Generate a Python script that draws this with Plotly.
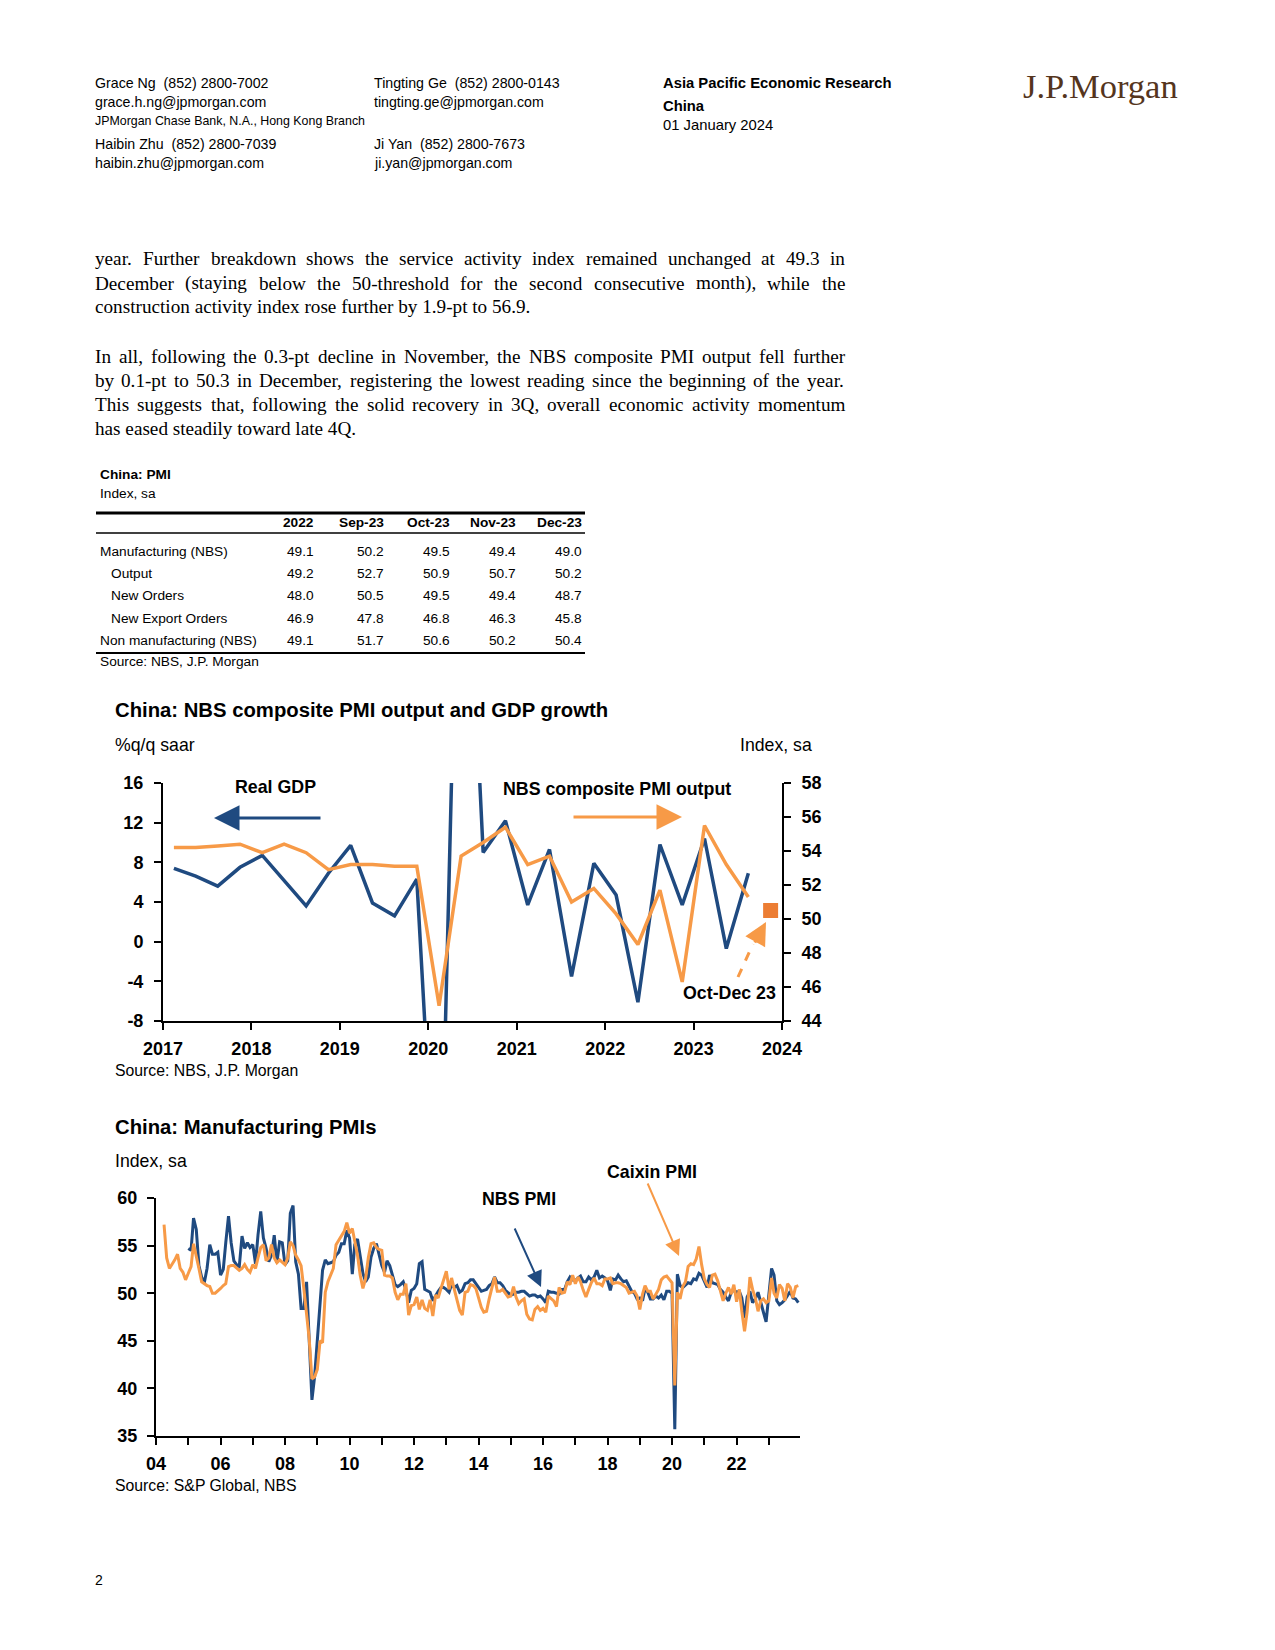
import plotly.graph_objects as go
import pandas as pd

W, H = 1275, 1650

# ---------------- DATA ----------------
# Chart 1: quarterly real GDP (%q/q saar) and NBS composite PMI output (quarterly avg)
gdp_quarters = ["2017Q1", "2017Q2", "2017Q3", "2017Q4",
                "2018Q1", "2018Q2", "2018Q3", "2018Q4",
                "2019Q1", "2019Q2", "2019Q3", "2019Q4",
                "2020Q1", "2020Q2", "2020Q3", "2020Q4",
                "2021Q1", "2021Q2", "2021Q3", "2021Q4",
                "2022Q1", "2022Q2", "2022Q3", "2022Q4",
                "2023Q1", "2023Q2", "2023Q3"]
real_gdp = [7.4, 6.6, 5.6, 7.5,
            8.7, 6.2, 3.6, 6.9,
            9.7, 3.9, 2.6, 6.3,
            -34.0, 55.0, 9.0, 12.2,
            3.7, 9.3, -3.5, 7.9,
            4.7, -6.1, 9.8, 3.7,
            10.4, -0.7, 6.9]
composite_pmi = [54.2, 54.2, 54.3, 54.4,
                 53.9, 54.4, 53.9, 52.9,
                 53.2, 53.2, 53.1, 53.1,
                 44.9, 53.7, 54.5, 55.4,
                 53.2, 53.7, 51.0, 51.8,
                 50.3, 48.5, 51.7, 46.3,
                 55.5, 53.2, 51.3]
latest_quarter = ["2023Q4"]
latest_composite = [50.5]
chart1_years = [2017, 2018, 2019, 2020, 2021, 2022, 2023, 2024]
gdp_ticks = [-8, -4, 0, 4, 8, 12, 16]

# Chart 2: monthly manufacturing PMIs
nbs_start = "2005-01-01"
nbs_pmi = [
    54.7, 54.5, 57.9, 56.7, 52.9, 51.7, 51.1, 52.6, 55.1, 54.1, 54.1, 54.3,  # 2005
    51.9, 52.5, 55.3, 58.1, 55.3, 53.4, 53.0, 52.8, 56.0, 54.7, 55.3, 54.8,  # 2006
    55.1, 53.1, 56.1, 58.6, 55.8, 54.7, 53.3, 54.0, 56.1, 53.2, 55.4, 55.3,  # 2007
    53.0, 53.4, 58.4, 59.2, 53.3, 52.0, 48.4, 48.4, 51.2, 44.6, 38.8, 41.2,  # 2008
    45.3, 49.0, 52.4, 53.5, 53.1, 53.2, 53.3, 54.0, 54.3, 55.2, 55.2, 56.6,  # 2009
    55.8, 52.0, 55.1, 55.7, 53.9, 52.1, 51.2, 51.7, 53.8, 54.7, 55.2, 53.9,  # 2010
    52.9, 52.2, 53.4, 52.9, 52.0, 50.9, 50.7, 50.9, 51.2, 50.4, 49.0, 50.3,  # 2011
    50.5, 51.0, 53.1, 53.3, 50.4, 50.2, 50.1, 49.2, 49.8, 50.2, 50.6, 50.6,  # 2012
    50.4, 50.1, 50.9, 50.6, 50.8, 50.1, 50.3, 51.0, 51.1, 51.4, 51.4, 51.0,  # 2013
    50.5, 50.2, 50.3, 50.4, 50.8, 51.0, 51.7, 51.1, 51.1, 50.8, 50.3, 50.1,  # 2014
    49.8, 49.9, 50.1, 50.1, 50.2, 50.2, 50.0, 49.7, 49.8, 49.8, 49.6, 49.7,  # 2015
    49.4, 49.0, 50.2, 50.1, 50.1, 50.0, 49.9, 50.4, 50.4, 51.2, 51.7, 51.4,  # 2016
    51.3, 51.6, 51.8, 51.2, 51.2, 51.7, 51.4, 51.7, 52.4, 51.6, 51.8, 51.6,  # 2017
    51.3, 50.3, 51.5, 51.4, 51.9, 51.5, 51.2, 51.3, 50.8, 50.2, 50.0, 49.4,  # 2018
    49.5, 49.2, 50.5, 50.1, 49.4, 49.4, 49.7, 49.5, 49.8, 49.3, 50.2, 50.2,  # 2019
    50.0, 35.7, 52.0, 50.8, 50.6, 50.9, 51.1, 51.0, 51.5, 51.4, 52.1, 51.9,  # 2020
    51.3, 50.6, 51.9, 51.1, 51.0, 50.9, 50.4, 50.1, 49.6, 49.2, 50.1, 50.3,  # 2021
    50.1, 50.2, 49.5, 47.4, 49.6, 50.2, 49.0, 49.4, 50.1, 49.2, 48.0, 47.0,  # 2022
    50.1, 52.6, 51.9, 49.2, 48.8, 49.0, 49.3, 49.7, 50.2, 49.5, 49.4, 49.0,  # 2023
]
caixin_start = "2004-04-01"
caixin_pmi = [
    57.2, 53.7, 52.6, 53.0, 53.5, 54.1, 52.6, 52.2, 51.4,                    # 2004 (Apr-Dec)
    52.1, 52.8, 55.2, 54.0, 52.6, 51.2, 51.0, 50.8, 50.7, 50.0, 50.0, 50.2,  # 2005
    50.5, 50.8, 51.0, 52.8, 52.9, 52.9, 52.6, 52.4, 52.6, 53.0, 52.5, 52.2,  # 2006
    53.0, 52.6, 53.7, 54.8, 55.1, 53.4, 53.7, 55.1, 53.7, 53.2, 53.5, 53.3,  # 2007
    53.0, 53.7, 55.4, 55.0, 54.0, 53.5, 52.9, 50.5, 47.7, 45.2, 41.0, 41.2,  # 2008
    42.0, 45.0, 44.8, 50.1, 51.2, 51.9, 52.6, 55.1, 55.6, 56.0, 56.5, 57.4,  # 2009
    56.3, 56.8, 55.4, 54.0, 51.9, 50.5, 51.5, 53.7, 55.2, 55.3, 54.8, 54.6,  # 2010
    54.5, 51.9, 51.8, 51.8, 51.6, 50.1, 49.3, 49.9, 49.9, 51.0, 47.7, 48.7,  # 2011
    48.8, 49.6, 48.3, 49.3, 48.4, 48.2, 49.3, 47.6, 49.8, 49.5, 50.5, 51.5,  # 2012
    52.3, 50.4, 51.6, 50.4, 49.2, 48.2, 47.7, 50.1, 50.2, 50.9, 50.8, 50.5,  # 2013
    49.5, 48.5, 48.0, 48.1, 49.4, 50.7, 51.7, 50.2, 50.2, 50.4, 50.0, 49.6,  # 2014
    49.7, 50.7, 49.6, 48.9, 49.2, 49.4, 47.8, 47.3, 47.2, 48.3, 48.6, 48.2,  # 2015
    48.4, 48.0, 49.7, 49.4, 49.2, 48.6, 50.6, 50.0, 50.1, 51.2, 50.9, 51.9,  # 2016
    51.0, 51.7, 51.2, 50.3, 49.6, 50.4, 51.1, 51.6, 51.0, 51.0, 50.8, 51.5,  # 2017
    51.5, 51.6, 51.0, 51.1, 51.1, 51.0, 50.8, 50.6, 50.0, 50.1, 50.2, 49.7,  # 2018
    48.3, 49.9, 50.8, 50.2, 50.2, 49.4, 49.9, 50.4, 51.4, 51.7, 51.8, 51.5,  # 2019
    51.1, 40.3, 50.1, 49.4, 50.7, 51.2, 52.8, 53.1, 53.0, 53.6, 54.9, 53.0,  # 2020
    51.5, 50.9, 50.6, 51.9, 52.0, 51.3, 50.3, 49.2, 50.0, 50.6, 49.9, 50.9,  # 2021
    49.1, 50.4, 48.1, 46.0, 48.1, 51.7, 50.4, 49.5, 48.1, 49.2, 49.4, 49.0,  # 2022
    49.2, 51.6, 50.0, 49.5, 50.9, 50.5, 49.2, 51.0, 50.6, 49.5, 50.7, 50.8,  # 2023
]
chart2_years = list(range(2004, 2024))

# Table
table_title = "China: PMI"
table_columns = ["2022", "Sep-23", "Oct-23", "Nov-23", "Dec-23"]
table_row_labels = ["Manufacturing (NBS)", "Output", "New Orders", "New Export Orders", "Non manufacturing (NBS)"]
table_row_indent = [False, True, True, True, False]
row_manufacturing = [49.1, 50.2, 49.5, 49.4, 49.0]
row_output = [49.2, 52.7, 50.9, 50.7, 50.2]
row_new_orders = [48.0, 50.5, 49.5, 49.4, 48.7]
row_export_orders = [46.9, 47.8, 46.8, 46.3, 45.8]
row_non_manufacturing = [49.1, 51.7, 50.6, 50.2, 50.4]
table_rows = [row_manufacturing, row_output, row_new_orders, row_export_orders, row_non_manufacturing]

# Body text (paragraph lines; True = justified line)
paragraph_1 = [
    ("year. Further breakdown shows the service activity index remained unchanged at 49.3 in", True),
    ("December (staying below the 50-threshold for the second consecutive month), while the", True),
    ("construction activity index rose further by 1.9-pt to 56.9.", False),
]
paragraph_2 = [
    ("In all, following the 0.3-pt decline in November, the NBS composite PMI output fell further", True),
    ("by 0.1-pt to 50.3 in December, registering the lowest reading since the beginning of the year.", True),
    ("This suggests that, following the solid recovery in 3Q, overall economic activity momentum", True),
    ("has eased steadily toward late 4Q.", False),
]

# ---------------- STYLE ----------------
BLUE = "#1F4A80"
ORANGE = "#F79A47"
SQUARE = "#EC7D33"
SANS = "Liberation Sans, Arial, sans-serif"
SERIF = "Liberation Serif, Times New Roman, serif"

# Times (Liberation Serif) advance widths, 1/1000 em, used to justify body lines
TIMES_W = {' ': 250, '!': 333, '(': 333, ')': 333, ',': 250, '-': 333, '.': 250, '/': 278,
           ':': 278, ';': 278, '?': 444, '0': 500, '1': 500, '2': 500, '3': 500, '4': 500,
           '5': 500, '6': 500, '7': 500, '8': 500, '9': 500,
           'A': 722, 'B': 667, 'C': 667, 'D': 722, 'E': 611, 'F': 556, 'G': 722, 'H': 722,
           'I': 333, 'J': 389, 'K': 722, 'L': 611, 'M': 889, 'N': 722, 'O': 722, 'P': 556,
           'Q': 722, 'R': 667, 'S': 556, 'T': 611, 'U': 722, 'V': 722, 'W': 944, 'X': 722,
           'Y': 722, 'Z': 611,
           'a': 444, 'b': 500, 'c': 444, 'd': 500, 'e': 444, 'f': 333, 'g': 500, 'h': 500,
           'i': 278, 'j': 278, 'k': 500, 'l': 278, 'm': 778, 'n': 500, 'o': 500, 'p': 500,
           'q': 500, 'r': 333, 's': 389, 't': 278, 'u': 500, 'v': 500, 'w': 722, 'x': 500,
           'y': 500, 'z': 444}


def tw(s, size):
    return sum(TIMES_W.get(c, 500) for c in s) * size / 1000.0


def px(x):
    return x / W


def py(y):
    return 1 - y / H


fig = go.Figure()


def text(x, y, s, size, family=SANS, bold=False, anchor="left", color="black"):
    fig.add_annotation(x=px(x), y=py(y), xref="paper", yref="paper",
                       text=f"<b>{s}</b>" if bold else s, showarrow=False,
                       xanchor=anchor, yanchor="middle", borderpad=0,
                       font=dict(size=size, family=family, color=color))


def hline(x0, x1, y, width):
    fig.add_shape(type="line", xref="paper", yref="paper",
                  x0=px(x0), x1=px(x1), y0=py(y), y1=py(y),
                  line=dict(color="black", width=width))


# ---------------- HEADER ----------------
HS = 14.2
text(94, 83, "Grace Ng&nbsp;&nbsp;(852) 2800-7002", HS)
text(94, 102, "grace.h.ng@jpmorgan.com", HS)
text(94, 121, "JPMorgan Chase Bank, N.A., Hong Kong Branch", 12.4)
text(94, 144, "Haibin Zhu&nbsp;&nbsp;(852) 2800-7039", HS)
text(94, 163, "haibin.zhu@jpmorgan.com", HS)
text(373, 83, "Tingting Ge&nbsp;&nbsp;(852) 2800-0143", HS)
text(373, 102, "tingting.ge@jpmorgan.com", HS)
text(373, 144, "Ji Yan&nbsp;&nbsp;(852) 2800-7673", HS)
text(373, 163, "ji.yan@jpmorgan.com", HS)
text(662, 83, "Asia Pacific Economic Research", 14.8, bold=True)
text(662, 106, "China", 14.8, bold=True)
text(662, 125, "01 January 2024", 14.8)
text(1100, 86, "J.P.Morgan", 34.5, family=SERIF, anchor="center", color="#55351D")

# ---------------- BODY TEXT (justified) ----------------
BODY_SIZE = 19.2
BODY_X0, BODY_X1 = 94, 844


def body_line(y, s, justify):
    if not justify:
        text(BODY_X0, y, s, BODY_SIZE, family=SERIF)
        return
    words = s.split(" ")
    widths = [tw(w, BODY_SIZE) for w in words]
    gap = (BODY_X1 - BODY_X0 - sum(widths)) / (len(words) - 1)
    x = BODY_X0
    for w, wd in zip(words, widths):
        text(x, y, w, BODY_SIZE, family=SERIF)
        x += wd + gap


for yy, (s, j) in zip([258, 283, 307], paragraph_1):
    body_line(yy, s, j)
for yy, (s, j) in zip([356, 380, 404, 428], paragraph_2):
    body_line(yy, s, j)

# ---------------- TABLE ----------------
TS = 13.7
text(99, 475, table_title, TS, bold=True)
text(99, 494, "Index, sa", TS)
hline(96, 585, 513, 3)
col_right = [315, 385, 451, 517, 583]
for cx, c in zip(col_right, table_columns):
    text(cx, 523, c, TS, bold=True, anchor="right")
hline(96, 585, 533, 1.5)
row_y = [551, 573, 595, 618, 641]
for ry, lab, ind, vals in zip(row_y, table_row_labels, table_row_indent, table_rows):
    text(110 if ind else 99, ry, lab, TS)
    for cx, v in zip(col_right, vals):
        text(cx, ry, f"{v:.1f}", TS, anchor="right")
hline(96, 585, 653, 2)
text(99, 662, "Source: NBS, J.P. Morgan", TS)

# ---------------- CHART 1 ----------------
q_dates = [pd.Period(q, freq="Q").start_time + pd.Timedelta(days=45) for q in gdp_quarters]
latest_dates = [pd.Period(q, freq="Q").start_time + pd.Timedelta(days=45) for q in latest_quarter]

fig.add_trace(go.Scatter(x=q_dates, y=real_gdp, mode="lines", xaxis="x", yaxis="y",
                         line=dict(color=BLUE, width=3.5), showlegend=False))
fig.add_trace(go.Scatter(x=q_dates, y=composite_pmi, mode="lines", xaxis="x", yaxis="y2",
                         line=dict(color=ORANGE, width=3.5), showlegend=False))
fig.add_trace(go.Scatter(x=latest_dates, y=latest_composite, mode="markers", xaxis="x", yaxis="y2",
                         marker=dict(symbol="square", size=15, color=SQUARE), showlegend=False))

LBL = 17.8
text(114, 710, "China: NBS composite PMI output and GDP growth", 20.3, bold=True)
text(114, 745, "%q/q saar", 17.7)
text(813, 745, "Index, sa", 17.7, anchor="right")
text(275, 787, "Real GDP", LBL, bold=True, anchor="center")
text(617, 789, "NBS composite PMI output", LBL, bold=True, anchor="center")
text(729, 993, "Oct-Dec 23", LBL, bold=True, anchor="center")
text(114, 1070, "Source: NBS, J.P. Morgan", 15.8)

# arrows
fig.add_annotation(x=px(214), y=py(818), xref="paper", yref="paper", ax=108, ay=0,
                   showarrow=True, arrowhead=2, arrowsize=1.7, arrowwidth=3, arrowcolor=BLUE, text="")
fig.add_annotation(x=px(682), y=py(817), xref="paper", yref="paper", ax=-110, ay=0,
                   showarrow=True, arrowhead=2, arrowsize=1.7, arrowwidth=3, arrowcolor=ORANGE, text="")
fig.add_shape(type="line", xref="paper", yref="paper", x0=px(738), y0=py(977), x1=px(753), y1=py(944),
              line=dict(color=ORANGE, width=3, dash="dash"))
fig.add_annotation(x=px(766), y=py(922), xref="paper", yref="paper", ax=-12, ay=22,
                   showarrow=True, arrowhead=2, arrowsize=1.5, arrowwidth=3, arrowcolor=ORANGE, text="")

axis_common = dict(showline=True, linecolor="black", linewidth=2, ticks="outside", ticklen=7,
                   tickwidth=2, tickcolor="black", showgrid=False, zeroline=False, automargin=False)
tickfont = dict(size=18, family=SANS, color="black", weight="bold")

fig.update_layout(
    xaxis=dict(domain=[px(163), px(782)], anchor="y", type="date",
               range=["2017-01-01", "2024-01-01"],
               tickvals=[f"{y}-01-01" for y in chart1_years],
               ticktext=[str(y) for y in chart1_years],
               tickfont=tickfont, ticklabelstandoff=3, **axis_common),
    yaxis=dict(domain=[py(1021), py(783)], anchor="x", range=[-8, 16],
               tickvals=gdp_ticks, ticktext=[str(v) for v in gdp_ticks],
               tickfont=tickfont, ticklabelstandoff=7, **axis_common),
    yaxis2=dict(overlaying="y", side="right", anchor="x", range=[44, 58], dtick=2,
                tickfont=tickfont, ticklabelstandoff=7, **axis_common),
)

# ---------------- CHART 2 ----------------
nbs_dates = pd.date_range(nbs_start, periods=len(nbs_pmi), freq="MS")
caixin_dates = pd.date_range(caixin_start, periods=len(caixin_pmi), freq="MS")
fig.add_trace(go.Scatter(x=nbs_dates, y=nbs_pmi, mode="lines", xaxis="x2", yaxis="y3",
                         line=dict(color=BLUE, width=3), showlegend=False))
fig.add_trace(go.Scatter(x=caixin_dates, y=caixin_pmi, mode="lines", xaxis="x2", yaxis="y3",
                         line=dict(color=ORANGE, width=3), showlegend=False))

text(114, 1127, "China: Manufacturing PMIs", 20.3, bold=True)
text(114, 1161, "Index, sa", 17.7)
text(519, 1199, "NBS PMI", LBL, bold=True, anchor="center")
text(652, 1172, "Caixin PMI", LBL, bold=True, anchor="center")
text(114, 1485, "Source: S&P Global, NBS", 15.8)
fig.add_annotation(x=px(541), y=py(1287), xref="paper", yref="paper", ax=-27, ay=-60,
                   showarrow=True, arrowhead=2, arrowsize=1.6, arrowwidth=2, arrowcolor=BLUE, text="")
fig.add_annotation(x=px(679), y=py(1256), xref="paper", yref="paper", ax=-32, ay=-74,
                   showarrow=True, arrowhead=2, arrowsize=1.6, arrowwidth=2, arrowcolor=ORANGE, text="")

fig.update_layout(
    xaxis2=dict(domain=[px(156), px(800)], anchor="y3", type="date",
                range=["2004-01-01", "2023-12-20"],
                tickvals=[f"{y}-01-01" for y in chart2_years],
                ticktext=[f"{y % 100:02d}" if y % 2 == 0 else "" for y in chart2_years],
                tickfont=tickfont, ticklabelstandoff=3, **axis_common),
    yaxis3=dict(domain=[py(1436), py(1198)], anchor="x2", range=[35, 60], dtick=5,
                tickfont=tickfont, ticklabelstandoff=6, **axis_common),
)

text(94, 1580, "2", 14)

fig.update_layout(width=W, height=H,
                  margin=dict(l=0, r=0, t=0, b=0, pad=0, autoexpand=False),
                  paper_bgcolor="white", plot_bgcolor="white", showlegend=False)

fig.write_html("out.html")
